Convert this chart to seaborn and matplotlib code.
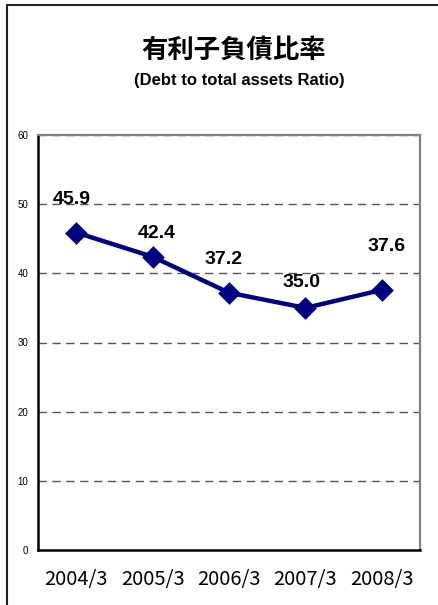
import seaborn as sns
import matplotlib.pyplot as plt
import pandas as pd
from matplotlib.lines import Line2D

# データ
years = ["2004/3", "2005/3", "2006/3", "2007/3", "2008/3"]
ratio = [45.9, 42.4, 37.2, 35.0, 37.6]
# ラベルの位置ずらし (px)
label_dx = [-4, 4, -5, -4, 5]
label_dy = [33, 23, 33, 25, 43]

df = pd.DataFrame({"year": years, "ratio": ratio})

sns.set_style("white")
plt.rcParams["font.family"] = ["Liberation Sans", "DejaVu Sans"]
plt.rcParams["text.color"] = "black"
plt.rcParams["xtick.color"] = "black"
plt.rcParams["ytick.color"] = "black"

W, H = 438, 605
fig = plt.figure(figsize=(W / 100, H / 100), dpi=100)
ax = fig.add_axes([38 / W, 1 - 550 / H, (420 - 38) / W, (550 - 135) / H])

sns.pointplot(data=df, x="year", y="ratio", color="#000080", markers="D",
              markersize=9.5, linewidth=3.2, ax=ax, zorder=5)

ax.set_xlim(-0.5, len(years) - 0.5)
ax.set_ylim(0, 60)
ax.set_yticks(range(0, 61, 10))
ax.set_xlabel("")
ax.set_ylabel("")

# グリッド
for v in range(10, 61, 10):
    ax.axhline(v, color="#555555", lw=1, ls=(0, (6, 4)), zorder=2)

for s in ["left", "bottom"]:
    ax.spines[s].set_color("black")
    ax.spines[s].set_linewidth(1.8)
for s in ["top", "right"]:
    ax.spines[s].set_color("#808080")
    ax.spines[s].set_linewidth(1.6)

ax.tick_params(axis="y", length=0, pad=7, labelsize=7, labelcolor="black")
ax.tick_params(axis="x", which="major", length=0, pad=14, labelcolor="black")
ax.set_xticks([i + 0.5 for i in range(len(years) - 1)], minor=True)
ax.tick_params(axis="x", which="minor", direction="in", length=5, width=1, color="black")
for lab in ax.get_xticklabels():
    lab.set_fontfamily(["Noto Sans CJK JP", "DejaVu Sans"])
    lab.set_fontsize(14.5)

# 値ラベル
for i, v in enumerate(ratio):
    ax.annotate(f"{v:.1f}", (i, v), xytext=(label_dx[i] * 0.72, label_dy[i] * 0.72),
                textcoords="offset points", ha="center", va="center",
                fontsize=14, fontweight="bold", color="black", zorder=6)

fig.text(234 / W, 1 - 50 / H, "有利子負債比率", ha="center", va="center",
         fontsize=19, fontweight="bold", color="black",
         family=["Noto Sans CJK JP", "DejaVu Sans"])
fig.text(239 / W, 1 - 81 / H, "(Debt to total assets Ratio)", ha="center", va="center",
         fontsize=12, fontweight="bold", color="black")

# 外枠
fig.add_artist(Line2D([7 / W, 1], [1 - 5 / H, 1 - 5 / H], color="#222222", lw=1.5))
fig.add_artist(Line2D([7 / W, 7 / W], [0, 1 - 5 / H], color="#222222", lw=1.5))

fig.savefig("out.png", dpi=100)
